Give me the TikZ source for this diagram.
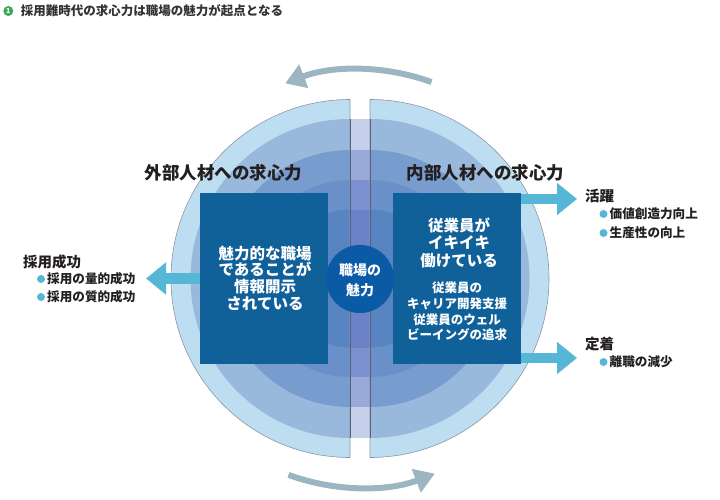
\documentclass[tikz,border=0pt]{standalone}
\usepackage{fontspec}
\setmainfont{Noto Sans CJK JP}
\usetikzlibrary{arrows.meta}
\definecolor{ringA}{HTML}{BDDEF0}
\definecolor{ringB}{HTML}{98B9DB}
\definecolor{ringC}{HTML}{799CCF}
\definecolor{ringD}{HTML}{6990C9}
\definecolor{ringE}{HTML}{5884C1}
\definecolor{stripB}{HTML}{C6D0EA}
\definecolor{stripC}{HTML}{9AAAD8}
\definecolor{stripD}{HTML}{7D90CF}
\definecolor{stripE}{HTML}{6C82C7}
\definecolor{boxblue}{HTML}{10609A}
\definecolor{coreblue}{HTML}{0B5AA6}
\definecolor{arrowcyan}{HTML}{55B6D6}
\definecolor{cyclegray}{HTML}{9BB5C2}
\definecolor{txt}{HTML}{231F20}
\definecolor{titletxt}{HTML}{333333}
\definecolor{titlegreen}{HTML}{3FA75A}
\definecolor{rimgray}{HTML}{8C96A8}
\definecolor{stripline}{HTML}{56617F}
\begin{document}
\begin{tikzpicture}[x=1pt,y=-1pt,
  panel/.style={fill=boxblue, minimum width=128pt, minimum height=171pt, inner sep=0pt},
  core/.style={circle, fill=coreblue, minimum size=68pt, inner sep=0pt},
  fatarrow/.style={draw=arrowcyan, line width=10.5pt, -{Triangle[length=20pt,width=31pt]}},
  cyclearrow/.style={draw=cyclegray, line width=6pt, -{Triangle[length=20pt,width=24pt]}},
  headlbl/.style={font=\fontsize{17.5}{20}\selectfont\bfseries, text=txt, inner sep=0pt},
  paneltext/.style={text=white, align=center, inner sep=0pt},
  grouplbl/.style={anchor=west, font=\fontsize{14.5}{16}\selectfont\bfseries, text=txt, inner sep=0pt},
  itemlbl/.style={anchor=west, font=\fontsize{12.6}{14}\selectfont\bfseries, text=txt, inner sep=0pt},
  bulletdot/.style={circle, fill=arrowcyan, minimum size=8pt, inner sep=0pt},
  rim/.style={draw=rimgray, line width=0.6pt}
]
\useasboundingbox (0,0) rectangle (720,500);
% rings (two halves, shifted apart)
\foreach \r/\col in {179/ringA,159.5/ringB,128.5/ringC,98.5/ringD,69/ringE}{
  \fill[\col] (350,278.5-\r) arc[start angle=270,end angle=90,radius=\r] -- cycle;
  \fill[\col] (370,278.5-\r) arc[start angle=-90,end angle=90,radius=\r] -- cycle;
}
% central strip
\foreach \r/\col in {159.5/stripB,128.5/stripC,98.5/stripD,69/stripE}{
  \fill[\col] (350,278.5-\r) rectangle (370,278.5+\r);
}
% outlines
\draw[rim] (350,99.5) arc[start angle=270,end angle=90,radius=179] -- cycle;
\draw[rim] (370,99.5) arc[start angle=-90,end angle=90,radius=179] -- cycle;
\draw[stripline, line width=0.7pt] (350,119) -- (350,438) (370,119) -- (370,438);
% panels and core
\node[panel] (lbox) at (264,278.5) {};
\node[panel] (rbox) at (457,278.5) {};
\node[core] (core) at (360,279) {};
% labels
\node[headlbl] (lhead) at (223.5,173) {外部人材への求心力};
\node[headlbl] (rhead) at (485.5,173) {内部人材への求心力};
\node[paneltext, font=\fontsize{15.5}{16.6}\selectfont\bfseries] (ltext) at (265,278) {魅力的な職場\\であることが\\情報開示\\されている};
\node[paneltext, font=\fontsize{15.5}{17.5}\selectfont\bfseries] (rtext1) at (459,242.5) {従業員が\\イキイキ\\働けている};
\node[paneltext, font=\fontsize{12.5}{15.6}\selectfont\bfseries] (rtext2) at (457,311.5) {従業員の\\キャリア開発支援\\従業員のウェル\\ビーイングの追求};
\node[paneltext, font=\fontsize{14}{20}\selectfont\bfseries] (coretext) at (360,280) {職場の\\魅力};
% side arrows
\coordinate (lfrom) at (200,278.5);
\coordinate (lto) at (146,278.5);
\coordinate (rtfrom) at (521,199);
\coordinate (rtto) at (577,199);
\coordinate (rbfrom) at (521,358);
\coordinate (rbto) at (577,358);
\draw[fatarrow] (lfrom) -- (lto);
\draw[fatarrow] (rtfrom) -- (rtto);
\draw[fatarrow] (rbfrom) -- (rbto);
% cycle arrows
\coordinate (c) at (360,278.5);
\draw[cyclearrow] ([shift={(-70:209)}]c) arc[start angle=-70,end angle=-111,radius=209];
\draw[cyclearrow] ([shift={(110:209)}]c) arc[start angle=110,end angle=69,radius=209];
% left outcome
\node[grouplbl] (g1) at (23,262) {採用成功};
\node[bulletdot] (b1) at (41,279) {};
\node[itemlbl] (i1) at (47,279) {採用の量的成功};
\node[bulletdot] (b2) at (41,297) {};
\node[itemlbl] (i2) at (47,297) {採用の質的成功};
% right outcomes
\node[grouplbl] (g2) at (585,196) {活躍};
\node[bulletdot] (b3) at (603.5,214) {};
\node[itemlbl] (i3) at (609.5,214) {価値創造力向上};
\node[bulletdot] (b4) at (603.5,233) {};
\node[itemlbl] (i4) at (609.5,233) {生産性の向上};
\node[grouplbl] (g3) at (585,344) {定着};
\node[bulletdot] (b5) at (603.5,362) {};
\node[itemlbl] (i5) at (609.5,362) {離職の減少};
% title
\node[circle, fill=titlegreen, minimum size=10pt, inner sep=0pt, text=white, font=\fontsize{7}{7}\selectfont\bfseries] (num) at (8.3,11) {1};
\node[anchor=west, inner sep=0pt, font=\fontsize{12.5}{14}\selectfont\bfseries, text=titletxt] (title) at (20.7,11) {採用難時代の求心力は職場の魅力が起点となる};
\end{tikzpicture}
\end{document}
